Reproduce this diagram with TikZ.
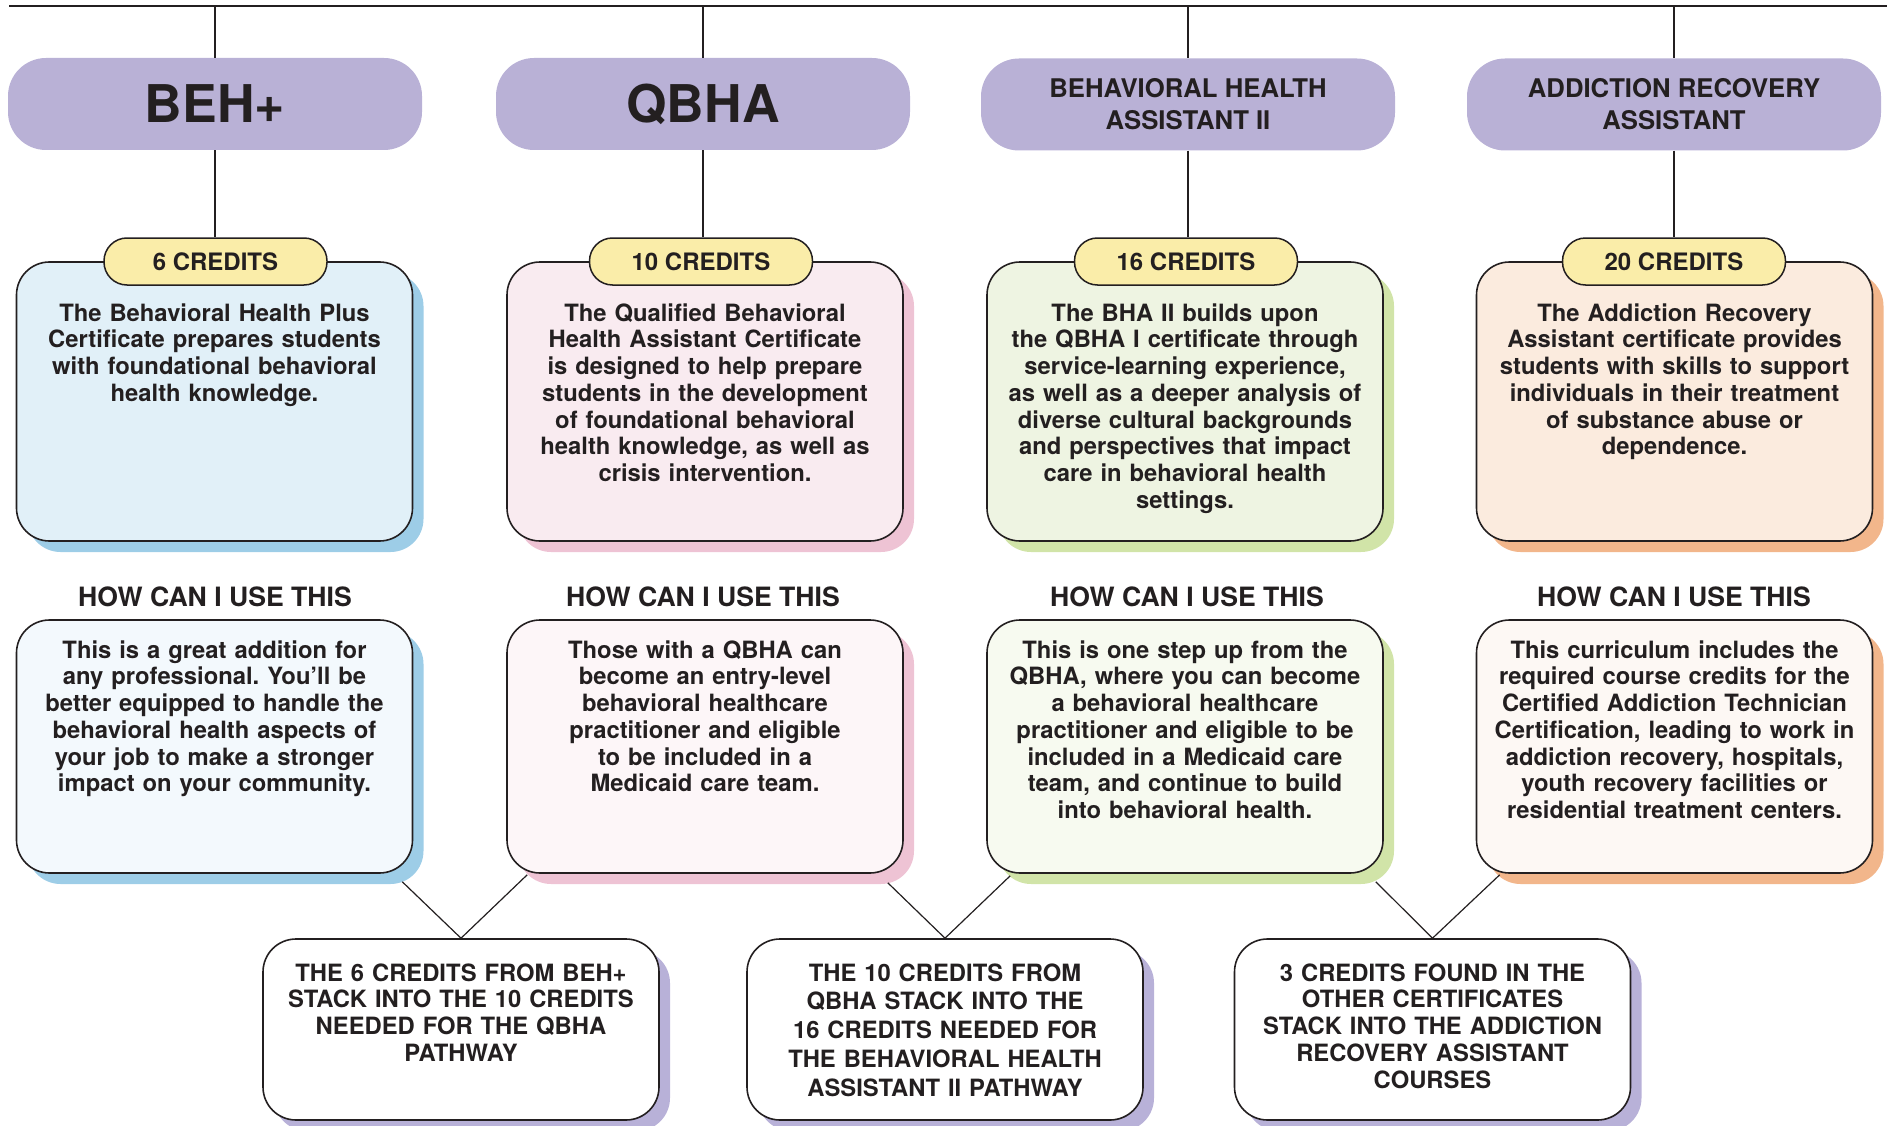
\documentclass[tikz,border=0pt]{standalone}
\usepackage{fontspec}
\setmainfont{TeX Gyre Heros}
\usetikzlibrary{shadows,calc}
\definecolor{ink}{HTML}{231F20}
\definecolor{hdrc}{HTML}{B9B1D6}
\definecolor{pillc}{HTML}{FAEDA9}
\definecolor{blueA}{HTML}{E1F0F8}
\definecolor{blueB}{HTML}{F3F9FD}
\definecolor{blueS}{HTML}{9DCDE7}
\definecolor{pinkA}{HTML}{F9EBF0}
\definecolor{pinkB}{HTML}{FDF6F8}
\definecolor{pinkS}{HTML}{EEC3D4}
\definecolor{greenA}{HTML}{EEF4E2}
\definecolor{greenB}{HTML}{F7FAF0}
\definecolor{greenS}{HTML}{D1E4A8}
\definecolor{orA}{HTML}{FBEBDE}
\definecolor{orB}{HTML}{FDF8F4}
\definecolor{orS}{HTML}{F2B68B}
\definecolor{lavS}{HTML}{B8B1D8}
\newcommand{\myfs}[2]{\fontsize{#1}{#2}\selectfont\bfseries\frenchspacing}
\begin{document}
\frenchspacing
\begin{tikzpicture}[x=1pt,y=-1pt,
  hdr/.style={fill=hdrc, rounded corners=38pt, minimum width=414pt, minimum height=92pt, inner sep=0pt, text=ink, align=center},
  bigtitle/.style={font=\myfs{52}{56}},
  smalltitle/.style={font=\myfs{25.7}{32}},
  pill/.style={draw=ink, line width=1.5pt, fill=pillc, rounded corners=23pt, minimum width=223pt, minimum height=47pt, inner sep=0pt, text=ink, font=\myfs{24}{26}},
  card/.style 2 args={draw=ink, line width=1.6pt, fill=#1, rounded corners=33pt, minimum width=396pt, inner sep=0pt,
     drop shadow={shadow xshift=11pt, shadow yshift=-11pt, opacity=1, fill=#2, draw=none}},
  desc/.style={minimum height=279pt},
  usebox/.style={minimum height=253pt},
  stackbox/.style={minimum height=181pt},
  body/.style={text width=396pt, align=center, inner sep=0pt, anchor=base, text=ink, font=\myfs{23.8}{26.7}},
  howlabel/.style={inner sep=0pt, anchor=base, text=ink, font=\myfs{26.6}{28}},
  link/.style={draw=ink, line width=1.4pt},
  thin/.style={draw=ink, line width=1.2pt}
]
\useasboundingbox (0,0) rectangle (1887,1126);

% top rule
\coordinate (tl) at (9,6);
\coordinate (tr) at (1887,6);
\draw[link] (tl) -- (tr);

% headers
\node[hdr, bigtitle] (h1) at (215,104) {BEH+};
\node[hdr, bigtitle] (h2) at (703,104) {QBHA};
\node[hdr, smalltitle] (h3) at (1188,104.5) {BEHAVIORAL HEALTH\\ASSISTANT II};
\node[hdr, smalltitle] (h4) at (1674,104.5) {ADDICTION RECOVERY\\ASSISTANT};

% description cards
\node[card={blueA}{blueS}, desc] (d1) at (214.5,401.5) {};
\node[card={pinkA}{pinkS}, desc] (d2) at (705,401.5) {};
\node[card={greenA}{greenS}, desc] (d3) at (1185,401.5) {};
\node[card={orA}{orS}, desc] (d4) at (1674.5,401.5) {};

% pills
\node[pill] (p1) at (215.5,261.5) {6 CREDITS};
\node[pill] (p2) at (701,261.5) {10 CREDITS};
\node[pill] (p3) at (1186,261.5) {16 CREDITS};
\node[pill] (p4) at (1674,261.5) {20 CREDITS};

% vertical connectors
\draw[link] (h1.north |- tl) -- (h1.north);
\draw[link] (h1.south) -- (h1.south |- p1.north);
\draw[link] (h2.north |- tl) -- (h2.north);
\draw[link] (h2.south) -- (h2.south |- p2.north);
\draw[link] (h3.north |- tl) -- (h3.north);
\draw[link] (h3.south) -- (h3.south |- p3.north);
\draw[link] (h4.north |- tl) -- (h4.north);
\draw[link] (h4.south) -- (h4.south |- p4.north);

% description texts
\node[body] (t1) at ($(d1.north)+(0,60)$) {The Behavioral Health Plus\\Certificate prepares students\\with foundational behavioral\\health knowledge.};
\node[body] (t2) at ($(d2.north)+(0,60)$) {The Qualified Behavioral\\Health Assistant Certificate\\is designed to help prepare\\students in the development\\of foundational behavioral\\health knowledge, as well as\\crisis intervention.};
\node[body] (t3) at ($(d3.north)+(0,60)$) {The BHA II builds upon\\the QBHA I certificate through\\service-learning experience,\\as well as a deeper analysis of\\diverse cultural backgrounds\\and perspectives that impact\\care in behavioral health\\settings.};
\node[body] (t4) at ($(d4.north)+(0,60)$) {The Addiction Recovery\\Assistant certificate provides\\students with skills to support\\individuals in their treatment\\of substance abuse or\\dependence.};

% how labels
\node[howlabel] (l1) at (215,606) {HOW CAN I USE THIS};
\node[howlabel] (l2) at (703,606) {HOW CAN I USE THIS};
\node[howlabel] (l3) at (1187,606) {HOW CAN I USE THIS};
\node[howlabel] (l4) at (1674,606) {HOW CAN I USE THIS};

% use cards
\node[card={blueB}{blueS}, usebox] (w1) at (214.5,746.5) {};
\node[card={pinkB}{pinkS}, usebox] (w2) at (705,746.5) {};
\node[card={greenB}{greenS}, usebox] (w3) at (1185,746.5) {};
\node[card={orB}{orS}, usebox] (w4) at (1674.5,746.5) {};

\node[body] (u1) at ($(w1.north)+(0,39)$) {This is a great addition for\\any professional. You’ll be\\better equipped to handle the\\behavioral health aspects of\\your job to make a stronger\\impact on your community.};
\node[body] (u2) at ($(w2.north)+(0,39)$) {Those with a QBHA can\\become an entry-level\\behavioral healthcare\\practitioner and eligible\\to be included in a\\Medicaid care team.};
\node[body] (u3) at ($(w3.north)+(0,39)$) {This is one step up from the\\QBHA, where you can become\\a behavioral healthcare\\practitioner and eligible to be\\included in a Medicaid care\\team, and continue to build\\into behavioral health.};
\node[body] (u4) at ($(w4.north)+(0,39)$) {This curriculum includes the\\required course credits for the\\Certified Addiction Technician\\Certification, leading to work in\\addiction recovery, hospitals,\\youth recovery facilities or\\residential treatment centers.};

% stack cards
\node[card={white}{lavS}, stackbox] (b1) at (461,1029.5) {};
\node[card={white}{lavS}, stackbox] (b2) at (945,1029.5) {};
\node[card={white}{lavS}, stackbox] (b3) at (1432.5,1029.5) {};

\node[body] (s1) at ($(b1.north)+(0,43)$) {THE 6 CREDITS FROM BEH+\\STACK INTO THE 10 CREDITS\\NEEDED FOR THE QBHA\\PATHWAY};
\node[body, font=\myfs{23.8}{28.7}] (s2) at ($(b2.north)+(0,43)$) {THE 10 CREDITS FROM\\QBHA STACK INTO THE\\16 CREDITS NEEDED FOR\\THE BEHAVIORAL HEALTH\\ASSISTANT II PATHWAY};
\node[body] (s3) at ($(b3.north)+(0,43)$) {3 CREDITS FOUND IN THE\\OTHER CERTIFICATES\\STACK INTO THE ADDICTION\\RECOVERY ASSISTANT\\COURSES};

% diagonal connectors
\coordinate (a1) at ($(w1.south east)+(-11,8)$);
\coordinate (a2) at ($(w2.south west)+(21,1)$);
\coordinate (a3) at ($(w2.south east)+(-16,9)$);
\coordinate (a4) at ($(w3.south west)+(24,2)$);
\coordinate (a5) at ($(w3.south east)+(-8,8)$);
\coordinate (a6) at ($(w4.south west)+(24,1)$);
\draw[thin] (a1) -- (b1.north);
\draw[thin] (a2) -- (b1.north);
\draw[thin] (a3) -- (b2.north);
\draw[thin] (a4) -- (b2.north);
\draw[thin] (a5) -- (b3.north);
\draw[thin] (a6) -- (b3.north);
\end{tikzpicture}
\end{document}
